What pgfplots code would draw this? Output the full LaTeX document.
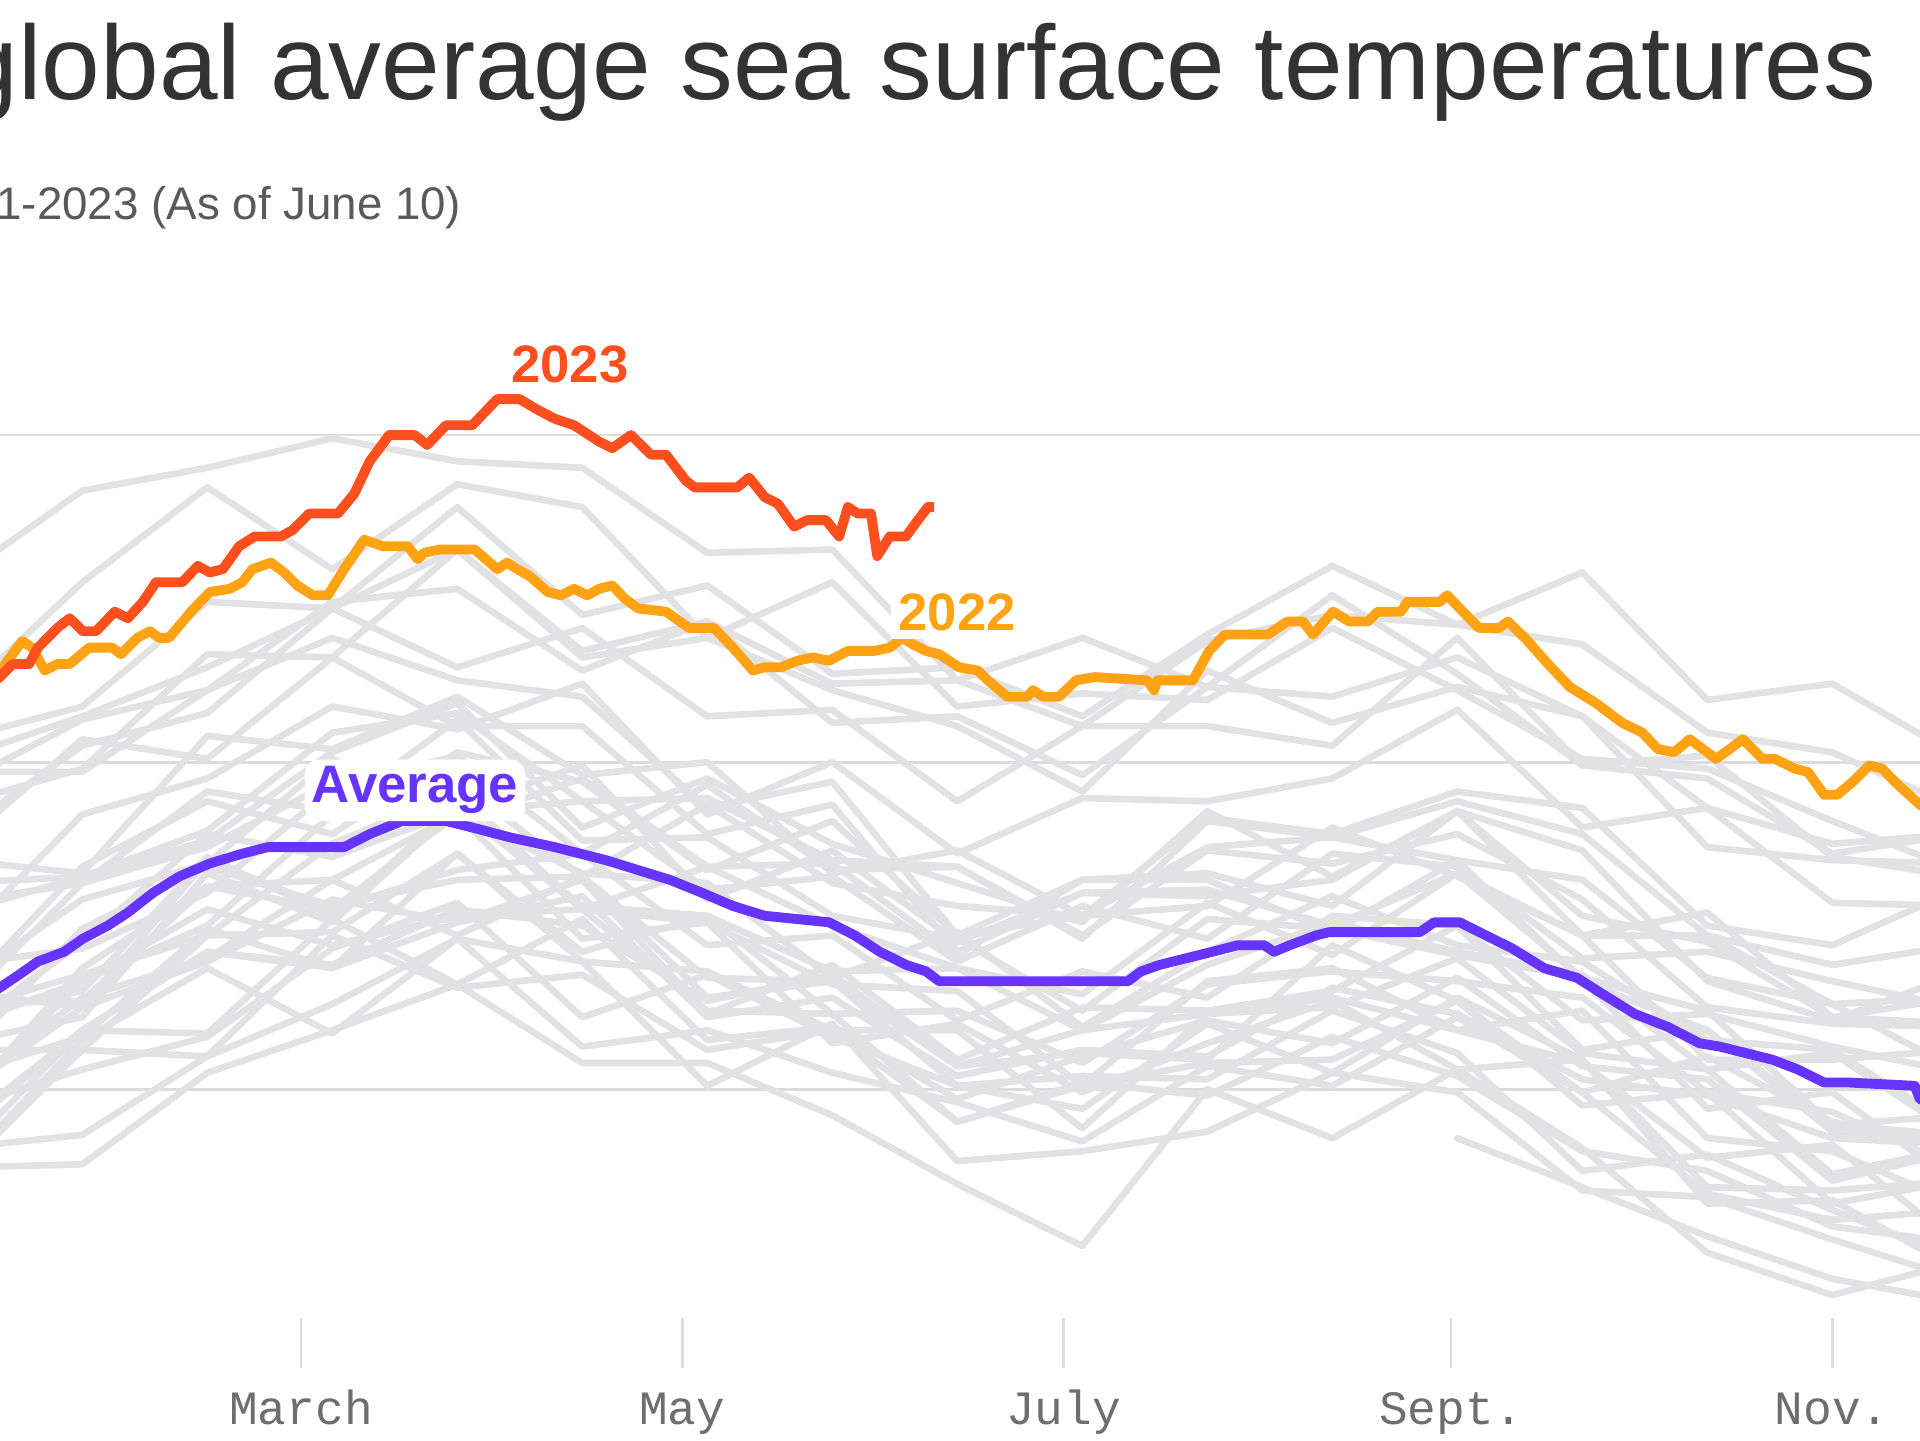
\documentclass[border=0pt]{standalone}
\usepackage{pgfplots}
\pgfplotsset{compat=1.18}
\usepackage{fontspec}
\setmainfont{Liberation Sans}
\newfontfamily\monofont{Liberation Mono}
\definecolor{c23}{RGB}{255,79,30}
\definecolor{c22}{RGB}{255,163,20}
\definecolor{cavg}{RGB}{102,51,255}
\definecolor{linegray}{RGB}{226,226,229}
\definecolor{gridgray}{RGB}{220,220,220}
\definecolor{titlegray}{RGB}{51,51,51}
\definecolor{subgray}{RGB}{90,90,90}
\definecolor{tickgray}{RGB}{110,110,110}
\pgfplotsset{gl/.style={color=linegray, line width=1.9pt, line join=round, line cap=round}}
\begin{document}
\begin{tikzpicture}
\path[use as bounding box, clip] (0,0) rectangle (19.2cm,14.4cm);
\begin{axis}[
  at={(-0.74cm,1.22cm)}, anchor=south west, scale only axis,
  width=21.25cm, height=10.464cm,
  xmin=0, xmax=340, ymin=67.3, ymax=70.5,
  axis line style={draw=none},
  ytick={68,69,70}, yticklabel=\empty, ymajorgrids,
  major grid style={color=gridgray, line width=0.8pt},
  y tick style={draw=none},
  xtick={60,121,182,244,305}, xticklabels={March,May,July,Sept.,Nov.},
  xtick pos=left, tick align=outside, major tick length=0.5cm,
  x tick style={color=gridgray, line width=0.8pt},
  xticklabel style={font=\monofont\fontsize{13.6}{16}\selectfont, text=tickgray, anchor=base, yshift=-0.56cm},
  clip=true,
]
% 1981 (from September)
\addplot[gl] coordinates {(245,67.85)(265,67.70)(285,67.55)(305,67.42)(325,67.35)};
% 1982-2021
\addplot[gl] coordinates {(5,67.79)(25,68.18)(45,68.17)(65,68.52)(85,68.32)(105,68.52)(125,68.15)(145,68.19)(165,67.97)(185,68.10)(205,68.21)(225,68.14)(245,68.34)(265,68.07)(285,68.03)(305,67.72)(325,67.81)};
\addplot[gl] coordinates {(5,68.30)(25,68.25)(45,68.70)(65,68.55)(85,68.84)(105,68.46)(125,68.51)(145,68.14)(165,68.20)(185,67.99)(205,68.14)(225,68.27)(245,68.06)(265,68.09)(285,67.65)(305,67.66)(325,67.45)};
\addplot[gl] coordinates {(5,67.75)(25,68.15)(45,68.37)(65,68.17)(85,68.46)(105,68.39)(125,68.01)(145,68.20)(165,67.78)(185,67.81)(205,67.87)(225,68.05)(245,67.99)(265,67.69)(285,67.67)(305,67.54)(325,67.42)};
\addplot[gl] coordinates {(5,67.76)(25,67.77)(45,68.05)(65,68.18)(85,68.32)(105,68.08)(125,68.08)(145,67.92)(165,67.71)(185,67.52)(205,68.00)(225,67.85)(245,68.06)(265,67.82)(285,67.50)(305,67.37)(325,67.47)};
\addplot[gl] coordinates {(5,67.74)(25,68.12)(45,68.10)(65,68.47)(85,68.31)(105,68.35)(125,68.12)(145,68.18)(165,67.90)(185,68.01)(205,68.08)(225,68.09)(245,68.27)(265,67.95)(285,67.99)(305,67.65)(325,67.72)};
\addplot[gl] coordinates {(5,68.26)(25,68.27)(45,68.62)(65,68.64)(85,68.84)(105,68.66)(125,68.63)(145,68.34)(165,68.48)(185,68.19)(205,68.42)(225,68.59)(245,68.44)(265,68.39)(285,68.15)(305,68.12)(325,67.88)};
\addplot[gl] coordinates {(5,68.09)(25,68.49)(45,68.68)(65,68.56)(85,68.64)(105,68.65)(125,68.34)(145,68.33)(165,68.01)(185,68.04)(205,68.03)(225,68.24)(245,68.11)(265,67.75)(285,67.80)(305,67.63)(325,67.48)};
\addplot[gl] coordinates {(5,67.82)(25,67.86)(45,68.10)(65,68.26)(85,68.46)(105,68.13)(125,68.18)(145,68.05)(165,67.96)(185,67.84)(205,68.07)(225,68.01)(245,68.22)(265,67.99)(285,67.68)(305,67.60)(325,67.63)};
\addplot[gl] coordinates {(5,67.99)(25,68.28)(45,68.40)(65,68.64)(85,68.47)(105,68.65)(125,68.28)(145,68.33)(165,68.07)(185,68.18)(205,68.23)(225,68.25)(245,68.40)(265,68.11)(285,68.06)(305,67.74)(325,67.82)};
\addplot[gl] coordinates {(5,68.12)(25,68.12)(45,68.47)(65,68.48)(85,68.72)(105,68.42)(125,68.53)(145,68.23)(165,68.24)(185,68.08)(205,68.32)(225,68.36)(245,68.33)(265,68.28)(285,67.99)(305,67.93)(325,67.76)};
\addplot[gl] coordinates {(5,67.95)(25,68.33)(45,68.55)(65,68.44)(85,68.53)(105,68.55)(125,68.24)(145,68.23)(165,67.90)(185,68.02)(205,67.98)(225,68.16)(245,68.04)(265,67.81)(285,67.75)(305,67.58)(325,67.53)};
\addplot[gl] coordinates {(5,67.94)(25,68.06)(45,68.16)(65,68.43)(85,68.57)(105,68.22)(125,68.35)(145,68.16)(165,68.01)(185,67.94)(205,68.20)(225,68.05)(245,68.28)(265,68.09)(285,67.70)(305,67.69)(325,67.72)};
\addplot[gl] coordinates {(5,67.98)(25,68.25)(45,68.39)(65,68.58)(85,68.51)(105,68.64)(125,68.23)(145,68.38)(165,68.09)(185,68.25)(205,68.24)(225,68.30)(245,68.50)(265,68.12)(285,68.18)(305,67.87)(325,67.85)};
\addplot[gl] coordinates {(5,68.23)(25,68.30)(45,68.71)(65,68.53)(85,68.87)(105,68.55)(125,68.51)(145,68.32)(165,68.30)(185,68.01)(205,68.33)(225,68.37)(245,68.18)(265,68.24)(285,67.85)(305,67.81)(325,67.65)};
\addplot[gl] coordinates {(5,67.86)(25,68.18)(45,68.42)(65,68.37)(85,68.51)(105,68.59)(125,68.22)(145,68.28)(165,68.04)(185,68.12)(205,68.10)(225,68.31)(245,68.23)(265,68.03)(285,67.98)(305,67.85)(325,67.83)};
\addplot[gl] coordinates {(5,68.19)(25,68.33)(45,68.50)(65,68.84)(85,68.94)(105,68.65)(125,68.87)(145,68.63)(165,68.56)(185,68.53)(205,68.83)(225,68.78)(245,68.91)(265,68.86)(285,68.50)(305,68.44)(325,68.61)};
\addplot[gl] coordinates {(5,68.93)(25,69.13)(45,69.22)(65,69.38)(85,69.25)(105,69.20)(125,68.86)(145,68.94)(165,68.47)(185,68.64)(205,68.64)(225,68.48)(245,68.70)(265,68.33)(285,68.18)(305,67.89)(325,67.86)};
\addplot[gl] coordinates {(5,68.04)(25,68.16)(45,68.49)(65,68.37)(85,68.72)(105,68.39)(125,68.36)(145,68.18)(165,68.18)(185,67.88)(205,68.23)(225,68.28)(245,68.18)(265,68.08)(285,67.79)(305,67.83)(325,67.53)};
\addplot[gl] coordinates {(5,67.88)(25,68.18)(45,68.42)(65,68.38)(85,68.55)(105,68.50)(125,68.27)(145,68.35)(165,68.07)(185,68.11)(205,68.09)(225,68.44)(245,68.27)(265,67.99)(285,68.10)(305,67.90)(325,67.82)};
\addplot[gl] coordinates {(5,68.24)(25,68.35)(45,68.47)(65,68.75)(85,68.91)(105,68.55)(125,68.68)(145,68.50)(165,68.37)(185,68.29)(205,68.57)(225,68.41)(245,68.66)(265,68.47)(285,68.09)(305,68.09)(325,68.12)};
\addplot[gl] coordinates {(5,68.25)(25,68.63)(45,68.74)(65,68.94)(85,68.86)(105,68.99)(125,68.58)(145,68.73)(165,68.45)(185,68.60)(205,68.59)(225,68.64)(245,68.85)(265,68.53)(285,68.45)(305,68.22)(325,68.28)};
\addplot[gl] coordinates {(5,68.70)(25,68.66)(45,69.08)(65,69.04)(85,69.20)(105,68.96)(125,69.00)(145,68.66)(165,68.73)(185,68.53)(205,68.74)(225,68.77)(245,68.70)(265,68.64)(285,68.34)(305,68.26)(325,68.06)};
\addplot[gl] coordinates {(5,68.28)(25,68.68)(45,68.88)(65,68.78)(85,69.03)(105,68.94)(125,68.67)(145,68.82)(165,68.47)(185,68.53)(205,68.56)(225,68.80)(245,68.65)(265,68.47)(285,68.47)(305,68.26)(325,68.28)};
\addplot[gl] coordinates {(5,68.63)(25,68.65)(45,68.79)(65,69.09)(85,69.15)(105,68.88)(125,68.89)(145,68.70)(165,68.68)(185,68.47)(205,68.73)(225,68.69)(245,68.78)(265,68.58)(285,68.25)(305,68.20)(325,68.19)};
\addplot[gl] coordinates {(5,68.32)(25,68.58)(45,68.69)(65,69.01)(85,68.82)(105,68.95)(125,68.68)(145,68.69)(165,68.41)(185,68.64)(205,68.66)(225,68.56)(245,68.85)(265,68.47)(285,68.54)(305,68.22)(325,68.20)};
\addplot[gl] coordinates {(5,68.57)(25,68.63)(45,68.91)(65,68.85)(85,69.13)(105,68.76)(125,68.77)(145,68.53)(165,68.46)(185,68.24)(205,68.52)(225,68.49)(245,68.41)(265,68.34)(285,67.94)(305,67.99)(325,67.71)};
\addplot[gl] coordinates {(5,67.94)(25,68.37)(45,68.62)(65,68.55)(85,68.67)(105,68.72)(125,68.44)(145,68.47)(165,68.21)(185,68.36)(205,68.28)(225,68.53)(245,68.50)(265,68.21)(285,68.23)(305,68.13)(325,68.05)};
\addplot[gl] coordinates {(5,68.38)(25,68.43)(45,68.60)(65,68.92)(85,69.02)(105,68.72)(125,68.93)(145,68.67)(165,68.68)(185,68.46)(205,68.82)(225,68.77)(245,68.88)(265,68.78)(285,68.47)(305,68.38)(325,68.44)};
\addplot[gl] coordinates {(5,68.74)(25,69.07)(45,69.01)(65,69.32)(85,69.11)(105,69.11)(125,68.78)(145,68.87)(165,68.42)(185,68.60)(205,68.61)(225,68.50)(245,68.66)(265,68.34)(285,68.24)(305,67.89)(325,67.92)};
\addplot[gl] coordinates {(5,68.14)(25,68.22)(45,68.66)(65,68.51)(85,68.86)(105,68.56)(125,68.53)(145,68.36)(165,68.37)(185,68.18)(205,68.38)(225,68.51)(245,68.42)(265,68.35)(285,68.06)(305,68.11)(325,67.86)};
\addplot[gl] coordinates {(5,68.17)(25,68.45)(45,68.78)(65,68.71)(85,68.85)(105,68.88)(125,68.61)(145,68.65)(165,68.39)(185,68.56)(205,68.46)(225,68.72)(245,68.68)(265,68.40)(285,68.42)(305,68.33)(325,68.25)};
\addplot[gl] coordinates {(5,68.54)(25,68.65)(45,68.76)(65,69.03)(85,69.18)(105,68.80)(125,68.95)(145,68.75)(165,68.63)(185,68.51)(205,68.85)(225,68.65)(245,68.85)(265,68.73)(285,68.33)(305,68.21)(325,68.35)};
\addplot[gl] coordinates {(5,68.45)(25,68.84)(45,68.95)(65,69.17)(85,69.10)(105,69.24)(125,68.84)(145,69.00)(165,68.72)(185,68.89)(205,68.88)(225,68.95)(245,69.16)(265,68.80)(285,68.86)(305,68.57)(325,68.56)};
\addplot[gl] coordinates {(5,68.87)(25,68.98)(45,69.33)(65,69.32)(85,69.65)(105,69.34)(125,69.43)(145,69.24)(165,69.25)(185,69.11)(205,69.37)(225,69.45)(245,69.42)(265,69.58)(285,69.19)(305,69.24)(325,69.02)};
\addplot[gl] coordinates {(5,69.56)(25,69.83)(45,69.90)(65,69.99)(85,69.92)(105,69.90)(125,69.64)(145,69.65)(165,69.25)(185,69.38)(205,69.23)(225,69.51)(245,69.27)(265,68.99)(285,69.02)(305,68.71)(325,68.65)};
\addplot[gl] coordinates {(5,69.01)(25,69.14)(45,69.29)(65,69.47)(85,69.65)(105,69.32)(125,69.38)(145,69.22)(165,69.11)(185,68.91)(205,69.28)(225,69.12)(245,69.23)(265,69.14)(285,68.74)(305,68.70)(325,68.69)};
\addplot[gl] coordinates {(5,68.78)(25,69.05)(45,69.15)(65,69.47)(85,69.29)(105,69.41)(125,69.14)(145,69.16)(165,68.88)(185,69.11)(205,69.11)(225,69.05)(245,69.38)(265,68.99)(285,68.95)(305,68.72)(325,68.78)};
\addplot[gl] coordinates {(5,69.07)(25,69.17)(45,69.49)(65,69.47)(85,69.78)(105,69.45)(125,69.54)(145,69.27)(165,69.29)(185,69.14)(205,69.39)(225,69.60)(245,69.42)(265,69.36)(285,69.09)(305,69.03)(325,68.86)};
\addplot[gl] coordinates {(5,69.19)(25,69.55)(45,69.84)(65,69.59)(85,69.85)(105,69.78)(125,69.38)(145,69.55)(165,69.17)(185,69.21)(205,69.19)(225,69.41)(245,69.22)(265,69.01)(285,68.98)(305,68.82)(325,68.67)};
\addplot[gl] coordinates {(5,68.97)(25,68.97)(45,69.22)(65,69.49)(85,69.53)(105,69.28)(125,69.43)(145,69.12)(165,69.14)(185,68.96)(205,69.23)(225,69.20)(245,69.32)(265,69.14)(285,68.86)(305,68.75)(325,68.78)};
% 2022
\addplot[color=c22, line width=2.8pt, line join=round] coordinates {(5,69.25)(12.3,69.29)(15.4,69.37)(17.0,69.35)(19.0,69.28)(21.0,69.30)(23.0,69.30)(26.1,69.35)(29.8,69.35)(31.2,69.33)(33.8,69.38)(35.8,69.40)(37.3,69.38)(38.9,69.38)(42.4,69.46)(45.4,69.52)(48.6,69.53)(50.6,69.55)(52.2,69.59)(55.2,69.61)(57.3,69.58)(59.4,69.54)(61.9,69.51)(64.3,69.51)(66.9,69.59)(70.1,69.68)(73.1,69.66)(77.1,69.66)(78.7,69.62)(79.7,69.64)(82.2,69.65)(87.8,69.65)(91.4,69.59)(93.0,69.61)(94.6,69.59)(96.5,69.57)(99.5,69.52)(101.6,69.51)(103.7,69.53)(105.8,69.51)(107.7,69.53)(109.8,69.54)(111.8,69.50)(113.9,69.47)(118.4,69.46)(122.1,69.41)(126.1,69.41)(129.1,69.35)(132.3,69.28)(134.2,69.29)(136.8,69.29)(139.4,69.31)(141.9,69.32)(144.5,69.31)(147.5,69.34)(151.7,69.34)(154.2,69.35)(156.2,69.38)(157.9,69.36)(160.0,69.34)(162.1,69.33)(165.3,69.29)(168.3,69.28)(169.9,69.25)(173.0,69.20)(176.2,69.20)(177.1,69.22)(178.7,69.20)(181.3,69.20)(184.0,69.25)(187.0,69.26)(195.4,69.25)(196.5,69.22)(197.0,69.25)(202.7,69.25)(205.3,69.34)(207.8,69.39)(214.7,69.39)(217.8,69.43)(220.3,69.43)(221.9,69.39)(225.1,69.46)(227.7,69.43)(230.7,69.43)(232.3,69.46)(236.0,69.46)(237.0,69.49)(242.2,69.49)(243.4,69.51)(245.9,69.46)(248.5,69.41)(251.7,69.41)(253.1,69.43)(255.8,69.38)(260.0,69.29)(263.0,69.23)(267.2,69.18)(271.4,69.12)(274.6,69.09)(277.1,69.04)(279.7,69.03)(282.2,69.07)(285.0,69.03)(286.4,69.01)(288.6,69.04)(290.7,69.07)(293.8,69.01)(295.8,69.01)(299.0,68.98)(301.1,68.97)(303.7,68.90)(305.8,68.90)(308.3,68.94)(310.9,68.99)(313.0,68.98)(315.0,68.94)(319.0,68.87)(325,68.80)};
% Average
\addplot[color=cavg, line width=2.8pt, line join=round] coordinates {(5,68.24)(11.8,68.31)(14.9,68.35)(17.9,68.39)(22.1,68.42)(25.1,68.46)(29.1,68.50)(32.3,68.54)(36.3,68.60)(40.5,68.65)(45.4,68.69)(50.6,68.72)(54.7,68.74)(66.9,68.74)(71.0,68.78)(76.2,68.82)(83.2,68.82)(87.4,68.80)(93.4,68.77)(100.6,68.74)(108.8,68.70)(113.9,68.67)(119.0,68.64)(124.2,68.60)(129.1,68.56)(134.2,68.53)(139.4,68.52)(144.5,68.51)(148.6,68.47)(152.6,68.42)(156.8,68.38)(160.0,68.36)(162.1,68.33)(192.3,68.33)(194.4,68.36)(197.4,68.38)(201.6,68.40)(205.8,68.42)(209.9,68.44)(214.1,68.44)(215.7,68.42)(218.2,68.44)(222.4,68.47)(224.5,68.48)(239.0,68.48)(241.3,68.51)(245.4,68.51)(249.6,68.47)(253.8,68.43)(258.9,68.37)(264.2,68.34)(268.3,68.29)(273.4,68.23)(278.7,68.19)(283.8,68.14)(287.0,68.13)(291.2,68.11)(295.4,68.09)(299.5,68.06)(303.7,68.02)(307.8,68.02)(318.2,68.01)(319.0,67.97)(325,67.92)};
% 2023
\addplot[color=c23, line width=2.8pt, line join=round] coordinates {(5,69.15)(11.8,69.26)(13.9,69.30)(16.5,69.30)(17.9,69.35)(21.0,69.41)(23.0,69.44)(25.1,69.40)(27.2,69.40)(30.2,69.46)(32.3,69.44)(34.7,69.49)(36.8,69.55)(41.0,69.55)(43.5,69.60)(45.4,69.58)(47.5,69.59)(50.1,69.66)(52.6,69.69)(56.8,69.69)(58.7,69.71)(61.3,69.76)(65.9,69.76)(68.5,69.82)(71.0,69.92)(74.1,70.00)(78.2,70.00)(80.2,69.97)(83.2,70.03)(87.4,70.03)(91.4,70.11)(95.0,70.11)(97.6,70.08)(100.6,70.05)(103.7,70.03)(107.7,69.98)(109.8,69.96)(112.8,70.00)(116.0,69.94)(118.4,69.94)(121.6,69.86)(123.0,69.84)(129.8,69.84)(131.7,69.87)(134.2,69.81)(136.3,69.79)(138.9,69.72)(141.0,69.74)(144.0,69.74)(146.1,69.69)(147.5,69.78)(149.1,69.76)(151.2,69.76)(152.2,69.63)(154.2,69.69)(156.8,69.69)(158.7,69.74)(160.3,69.78)(161.3,69.78)};
\end{axis}
\node[anchor=base east, inner sep=0, text=titlegray, font=\fontsize{30}{36}\selectfont] at (18.77cm,13.40cm) {global average sea surface temperatures};
\node[anchor=base east, inner sep=0, text=subgray, font=\fontsize{13}{15}\selectfont] at (4.62cm,12.20cm) {1981-2023 (As of June 10)};
\node[anchor=base, inner sep=0, text=c23, font=\fontsize{15}{18}\selectfont\bfseries] at (5.70cm,10.57cm) {2023};
\node[anchor=base, inner sep=2pt, fill=white, text=c22, font=\fontsize{15}{18}\selectfont\bfseries] at (9.57cm,8.09cm) {2022};
\node[anchor=base, inner sep=2pt, fill=white, rounded corners=4pt, text=cavg, font=\fontsize{15}{18}\selectfont\bfseries] at (4.15cm,6.37cm) {Average};
\end{tikzpicture}
\end{document}
